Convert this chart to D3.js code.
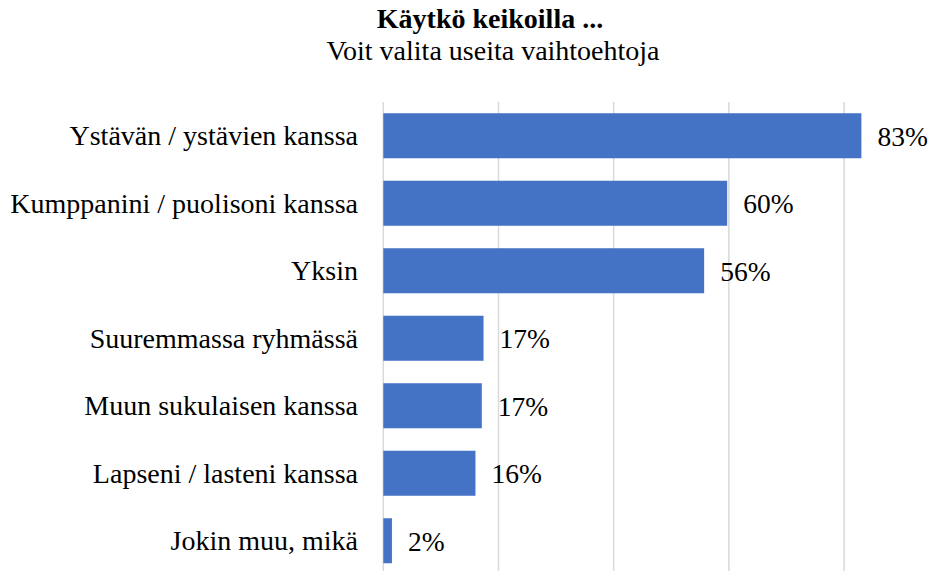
<!DOCTYPE html>
<html><head><meta charset="utf-8">
<script src="https://cdn.jsdelivr.net/npm/d3@7"></script>
</head><body style="margin:0">
<svg id="c" width="947" height="571"></svg>
<script>
const categories = ["Ystävän / ystävien kanssa","Kumppanini / puolisoni kanssa","Yksin","Suuremmassa ryhmässä","Muun sukulaisen kanssa","Lapseni / lasteni kanssa","Jokin muu, mikä"];
const values = [83.0, 59.7, 55.7, 17.4, 17.1, 16.0, 1.5];
const valueLabels = ["83%","60%","56%","17%","17%","16%","2%"];
const gridTicks = [0,20,40,60,80];
const title = "Käytkö keikoilla ...";
const subtitle = "Voit valita useita vaihtoehtoja";

const FF = '"Liberation Serif", "Times New Roman", Times, serif';
const svg = d3.select("#c");
const x = d3.scaleLinear().domain([0,100]).range([383.3, 383.3+576]);
const y = d3.scaleBand().domain(categories).range([102, 574.5]).paddingInner(0.333).paddingOuter(0.1665);

svg.append("rect").attr("width",947).attr("height",571).attr("fill","#fff");

svg.append("g").selectAll("line").data(gridTicks).join("line")
  .attr("x1",d=>x(d)).attr("x2",d=>x(d)).attr("y1",102).attr("y2",571)
  .attr("stroke","#d9d9d9").attr("stroke-width",1.5);

svg.append("g").selectAll("rect").data(values).join("rect")
  .attr("x",x(0)).attr("y",(d,i)=>y(categories[i]))
  .attr("width",d=>x(d)-x(0)).attr("height",y.bandwidth())
  .attr("fill","#4472c4");

svg.append("g").selectAll("text").data(categories).join("text")
  .attr("x",358).attr("y",d=>y(d)+y.bandwidth()/2+9.5)
  .attr("text-anchor","end").style("font-family",FF).style("font-size","28px")
  .text(d=>d);

svg.append("g").selectAll("text").data(values).join("text")
  .attr("x",d=>x(d)+16).attr("y",(d,i)=>y(categories[i])+y.bandwidth()/2+10)
  .style("font-family",FF).style("font-size","27.5px")
  .text((d,i)=>valueLabels[i]);

svg.append("text").attr("x",490).attr("y",28).attr("text-anchor","middle")
  .style("font-family",FF).style("font-size","28px").style("font-weight","bold").text(title);
svg.append("text").attr("x",493).attr("y",60).attr("text-anchor","middle")
  .style("font-family",FF).style("font-size","28px").text(subtitle);
</script>
</body></html>
